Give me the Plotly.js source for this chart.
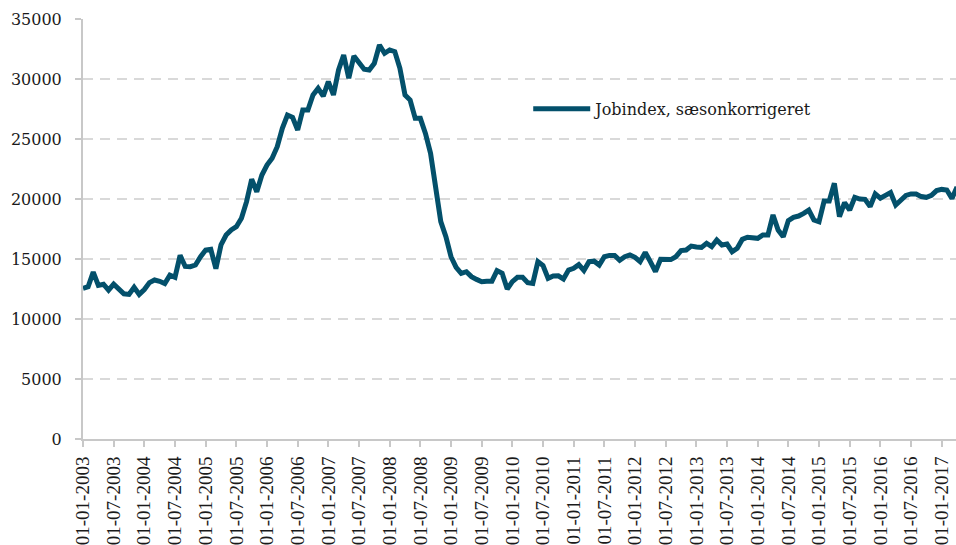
<!DOCTYPE html>
<html><head><meta charset="utf-8">
<script src="https://cdn.plot.ly/plotly-3.0.1.min.js"></script>
<style>html,body{margin:0;padding:0;background:#fff}#chart{width:956px;height:545px}</style>
</head><body><div id="chart"></div>
<script>
const seriesName = 'Jobindex, sæsonkorrigeret';
const firstYear = 2003;
const values = [
  12560,12690,13900,12800,12900,12400,12900,12470,12100,12050,12650,12050,
  12450,13030,13250,13140,12950,13650,13470,15300,14380,14360,14500,15190,
  15750,15810,14200,16170,17000,17420,17690,18390,19780,21650,20600,22000,
  22830,23390,24360,25890,27000,26810,25750,27420,27420,28670,29220,28580,
  29780,28670,30750,32000,30060,31920,31440,30810,30750,31310,32830,32140,
  32420,32280,30890,28670,28250,26720,26720,25470,23810,21030,18110,16860,
  15190,14300,13810,13940,13530,13300,13110,13150,13150,14030,13810,12500,
  13110,13470,13470,13030,12970,14780,14450,13390,13580,13600,13330,14080,
  14220,14530,14050,14780,14820,14500,15190,15300,15300,14900,15190,15330,
  15140,14780,15550,14780,13950,14970,14920,14950,15190,15700,15750,16080,
  16000,15970,16310,16030,16580,16170,16250,15610,15890,16640,16810,16750,
  16720,17000,17000,18670,17420,16860,18200,18470,18580,18800,19080,18250,
  18110,19830,19830,21310,18530,19690,19080,20140,20000,19970,19360,20420,
  20060,20300,20530,19500,19970,20300,20420,20420,20200,20140,20300,20700,
  20800,20750,20050,21000
];
const tickLabels = [
  '01-01-2003','01-07-2003','01-01-2004','01-07-2004','01-01-2005','01-07-2005',
  '01-01-2006','01-07-2006','01-01-2007','01-07-2007','01-01-2008','01-07-2008',
  '01-01-2009','01-07-2009','01-01-2010','01-07-2010','01-01-2011','01-07-2011',
  '01-01-2012','01-07-2012','01-01-2013','01-07-2013','01-01-2014','01-07-2014',
  '01-01-2015','01-07-2015','01-01-2016','01-07-2016','01-01-2017'
];
const months = values.map((_, i) => {
  const y = firstYear + Math.floor(i / 12);
  const m = (i % 12) + 1;
  return '01-' + String(m).padStart(2, '0') + '-' + y;
});

const trace = {
  type: 'scatter', mode: 'lines', name: seriesName,
  x: months, y: values,
  line: {color: '#03506b', width: 5, shape: 'linear'},
  hoverinfo: 'x+y'
};

const layout = {
  width: 956, height: 545,
  margin: {l: 83, r: 0, t: 19, b: 106, pad: 0},
  paper_bgcolor: '#ffffff', plot_bgcolor: '#ffffff',
  showlegend: true,
  legend: {
    x: 0.510, y: 0.786, xanchor: 'left', yanchor: 'middle',
    itemwidth: 57,
    bgcolor: 'rgba(0,0,0,0)', borderwidth: 0,
    font: {family: 'DejaVu Serif, serif', size: 16, color: '#1a1a1a'}
  },
  xaxis: {
    type: 'category', range: [0, 170.8], autorange: false,
    tickmode: 'array', tickvals: tickLabels, ticktext: tickLabels,
    tickangle: -90,
    tickfont: {family: 'Liberation Serif, serif', size: 19, color: '#1a1a1a'},
    showgrid: false, zeroline: false,
    showline: true, linecolor: '#c8c8c8', linewidth: 2,
    ticks: 'outside', ticklen: 6, tickwidth: 2, tickcolor: '#c8c8c8',
    ticklabelstandoff: 2, automargin: false, fixedrange: true
  },
  yaxis: {
    range: [0, 35000], autorange: false, tickmode: 'linear', tick0: 0, dtick: 5000,
    tickformat: 'd',
    tickfont: {family: 'DejaVu Serif, serif', size: 16, color: '#1a1a1a'},
    showgrid: true, gridcolor: '#d9d9d9', gridwidth: 2, griddash: '10px,7px',
    zeroline: false,
    showline: true, linecolor: '#c8c8c8', linewidth: 2,
    ticks: 'outside', ticklen: 6, tickwidth: 2, tickcolor: '#c8c8c8',
    ticklabelstandoff: 10, automargin: false, fixedrange: true
  }
};

Plotly.newPlot('chart', [trace], layout, {displayModeBar: false, staticPlot: true});
</script>
</body></html>
